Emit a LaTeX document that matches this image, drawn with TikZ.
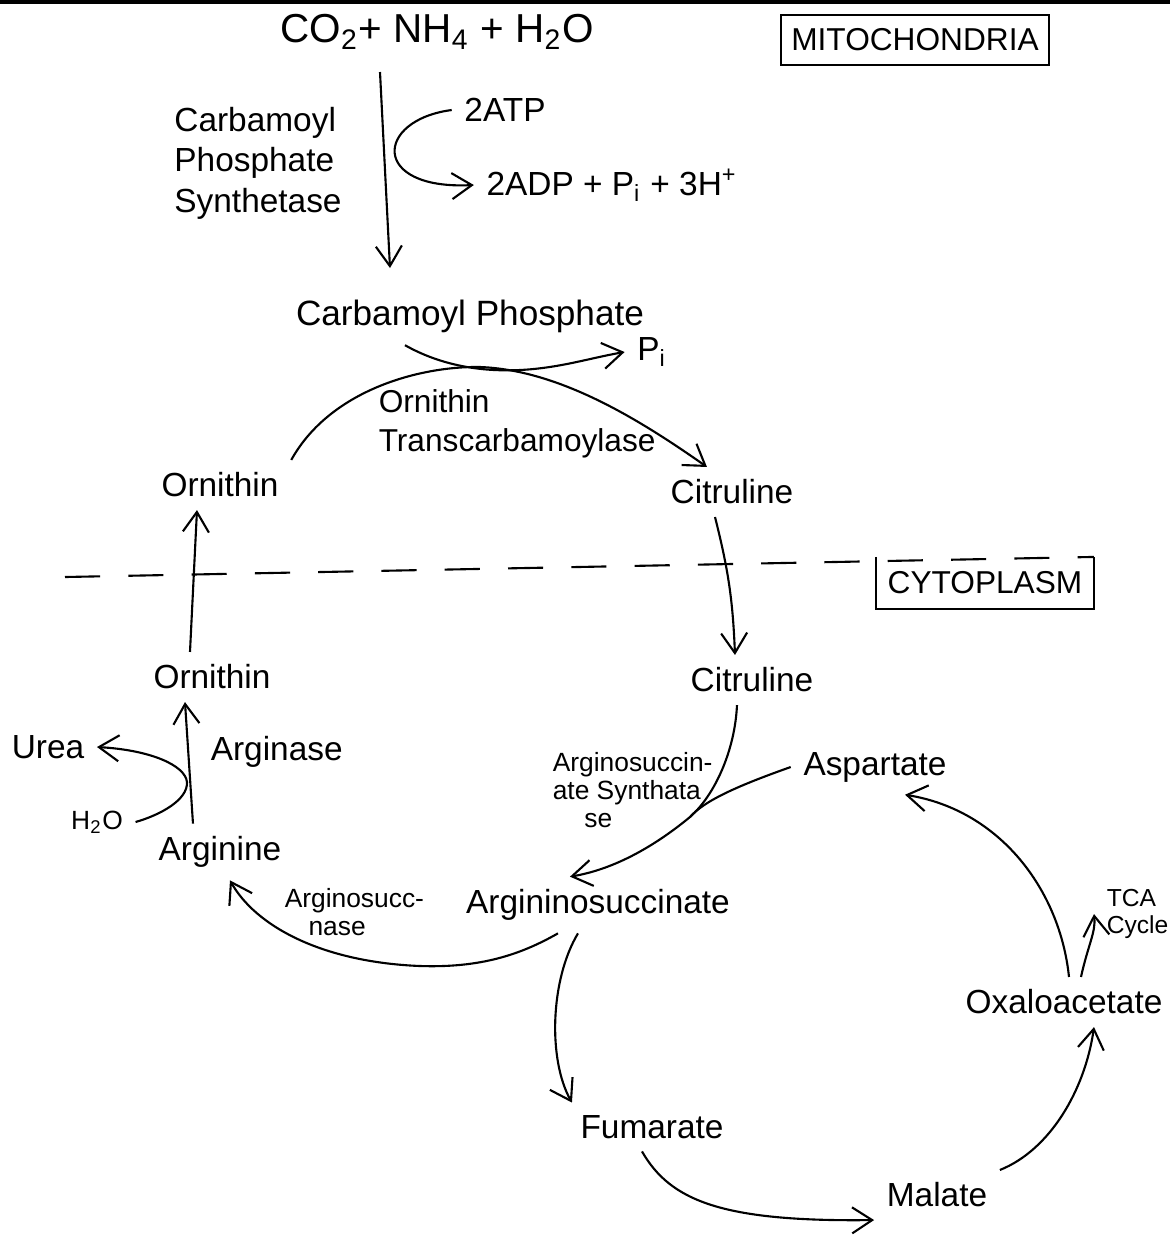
\documentclass[tikz,border=0pt]{standalone}
\usepackage{fontspec}
\setmainfont{Liberation Sans}
\usetikzlibrary{arrows.meta}
\begin{document}
\begin{tikzpicture}[x=0.01cm,y=-0.01cm,semithick,>={Straight Barb[length=2mm,width=2.6mm]},
    font=\fontsize{9.5}{11.5}\selectfont,
    lbl/.style={align=left,anchor=west,font=\fontsize{7.5}{8}\selectfont},
    tag/.style={minimum height=0.5cm,inner xsep=3pt,font=\fontsize{9}{11}\selectfont}]
    \useasboundingbox (0,0) rectangle (1170,1235);
    \draw[line width=1.5pt] (0,1) -- (1170,1);

    \node (src) at (437,32) {\fontsize{11.5}{14}\selectfont CO\textsubscript{2}+ NH\textsubscript{4} + H\textsubscript{2}O};
    \node[tag,draw] (mito) at (915,40) {MITOCHONDRIA};
    \node[align=left] (cps) at (258,163) {Carbamoyl\\Phosphate\\Synthetase};
    \node (atp) at (505,110) {2ATP};
    \node (adp) at (612,185) {2ADP + P\textsubscript{i} + 3H\textsuperscript{+}};
    \node (cp) at (470,316) {\fontsize{10}{12}\selectfont Carbamoyl Phosphate};
    \node (pi) at (652,352) {P\textsubscript{i}};

    \coordinate (cpsA) at (380,72);
    \coordinate (cpsB) at (390,268);
    \draw[->] (cpsA) -- (cpsB);
    \draw[->] (atp.west) .. controls (375,120) and (370,190) .. (adp.west);

    \node (orn1) at (220,485) {Ornithin};
    \node (cit1) at (732,492) {Citruline};
    \node[align=left,anchor=west,font=\fontsize{9}{11}\selectfont] (otc) at (366,424) {Ornithin\\Transcarbamoylase};
    \draw[->] (orn1.north east) .. controls (330,390) and (420,366) .. (480,367)
        .. controls (560,370) and (640,420) .. ([xshift=-0.25cm]cit1.north);
    \draw[->] ([xshift=-0.65cm]cp.south) .. controls (440,365) and (480,372) .. (520,370)
        .. controls (560,368) and (590,358) .. (pi.west);

    \node[tag] (cyto) at (985,583) {CYTOPLASM};
    \draw[dash pattern=on 10pt off 8pt] (65,577) -- (cyto.north east);
    \draw (cyto.north west) -- (cyto.south west) -- (cyto.south east) -- (cyto.north east);

    \node (orn2) at (212,677) {Ornithin};
    \node (cit2) at (752,680) {Citruline};
    \draw[->] ([xshift=-0.22cm]orn2.north) -- ([xshift=-0.23cm]orn1.south);
    \draw[->] ([xshift=-0.17cm]cit1.south) to[bend left=6] ([xshift=-0.17cm]cit2.north);

    \node (arg) at (220,852) {Arginine};
    \node (urea) at (48,747) {Urea};
    \node[font=\fontsize{7.5}{8}\selectfont] (water) at (97,822) {H\textsubscript{2}O};
    \node[anchor=west] (argase) at (198,752) {Arginase};
    \draw[->] ([xshift=-0.27cm]arg.north) -- ([xshift=-0.27cm]orn2.south);
    \draw[->] (water.east) .. controls (160,815) and (188,800) .. (187,782)
        .. controls (185,765) and (150,750) .. (urea.east);

    \node (asp) at (875,767) {Aspartate};
    \node (as) at (598,905) {Argininosuccinate};
    \node[lbl] (ass) at (540,790) {Arginosuccin-\\ate Synthata\\\hspace{1.2em}se};
    \coordinate (join) at (690,817);
    \draw[->] ([xshift=-0.15cm]cit2.south) .. controls (735,750) and (715,795) .. (join)
        .. controls (650,850) and (610,870) .. ([xshift=-0.28cm]as.north);
    \draw (asp.west) .. controls (740,785) and (705,800) .. (join);

    \node[lbl] (asl) at (272,912) {Arginosucc-\\\hspace{0.9em}nase};
    \draw[->] ([xshift=-0.4cm]as.south) .. controls (520,955) and (480,968) .. (420,966)
        .. controls (320,962) and (255,925) .. ([xshift=0.1cm]arg.south);

    \node (fum) at (652,1127) {Fumarate};
    \node (mal) at (937,1195) {Malate};
    \node (oxa) at (1064,1002) {Oxaloacetate};
    \node[lbl,font=\fontsize{7}{7.5}\selectfont] (tca) at (1094,914) {TCA\\Cycle};
    \draw[->] ([xshift=-0.2cm]as.south) .. controls (550,980) and (548,1060) .. ([xshift=-0.8cm]fum.north);
    \draw[->] ([xshift=-0.1cm]fum.south) .. controls (670,1200) and (720,1222) .. (mal.south west);
    \draw[->] (mal.north east) .. controls (1050,1150) and (1085,1090) .. ([xshift=0.3cm]oxa.south);
    \draw[->] ([xshift=0.05cm]oxa.north) .. controls (1060,890) and (1000,810) .. ([xshift=0.3cm]asp.south);
    \draw[->] ([xshift=0.17cm]oxa.north) .. controls (1088,945) and (1096,932) .. (tca.west);
\end{tikzpicture}
\end{document}
